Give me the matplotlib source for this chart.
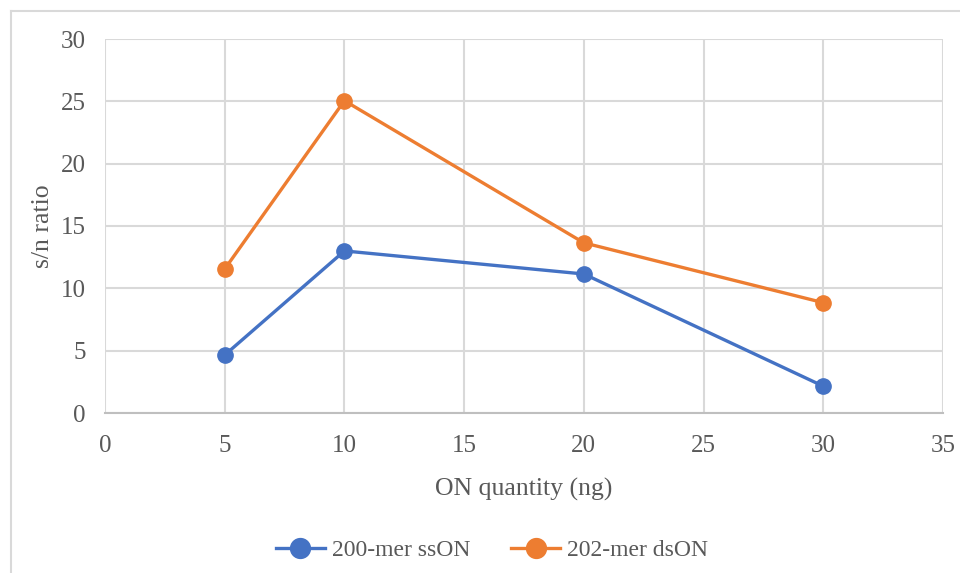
import matplotlib.pyplot as plt
from matplotlib.lines import Line2D

# Данные графика
quantity = [5, 10, 20, 30]
ss_on = [4.65, 13.0, 11.15, 2.15]
ds_on = [11.55, 25.05, 13.65, 8.85]
labels = ["200-mer ssON", "202-mer dsON"]

blue = "#4472C4"
orange = "#ED7D31"
grid_c = "#D9D9D9"
text_c = "#595959"

plt.rcParams['font.family'] = ['Liberation Serif', 'DejaVu Serif']

fig = plt.figure(figsize=(9.6, 5.73), dpi=100)
ax = fig.add_axes([105 / 960, 1 - 413 / 573, 838 / 960, 374 / 573])

ax.plot(quantity, ss_on, color=blue, lw=2.4, marker='o', ms=11, label=labels[0], zorder=3)
ax.plot(quantity, ds_on, color=orange, lw=2.4, marker='o', ms=11, label=labels[1], zorder=3)

ax.set_xlim(0, 35)
ax.set_ylim(0, 30)
ax.set_xticks(range(0, 36, 5))
ax.set_yticks(range(0, 31, 5))
ax.grid(True, color=grid_c, lw=1.5)
ax.set_axisbelow(True)
for side in ['top', 'right', 'left']:
    ax.spines[side].set_visible(False)
ax.spines['bottom'].set_color("#BFBFBF")
ax.spines['bottom'].set_linewidth(1.5)
ax.tick_params(length=0, labelsize=18, labelcolor=text_c)
ax.tick_params(axis='x', pad=16)
ax.tick_params(axis='y', pad=14)

ax.set_xlabel('ON quantity (ng)', fontsize=18.5, color=text_c, labelpad=15)
ax.set_ylabel('s/n ratio', fontsize=18.5, color=text_c, labelpad=5)

fig.legend(loc='center', bbox_to_anchor=(492 / 960, 1 - 550 / 573), ncol=2,
           frameon=False, fontsize=17, labelcolor=text_c, handlelength=2.1,
           columnspacing=1.7, handletextpad=0.3, markerscale=1.3)

# Рамка диаграммы
fig.add_artist(Line2D([11 / 960, 1], [1 - 11 / 573, 1 - 11 / 573], color=grid_c, lw=1.5,
                      transform=fig.transFigure))
fig.add_artist(Line2D([11 / 960, 11 / 960], [0, 1 - 11 / 573], color=grid_c, lw=1.5,
                      transform=fig.transFigure))

fig.savefig('out.png', dpi=100)
